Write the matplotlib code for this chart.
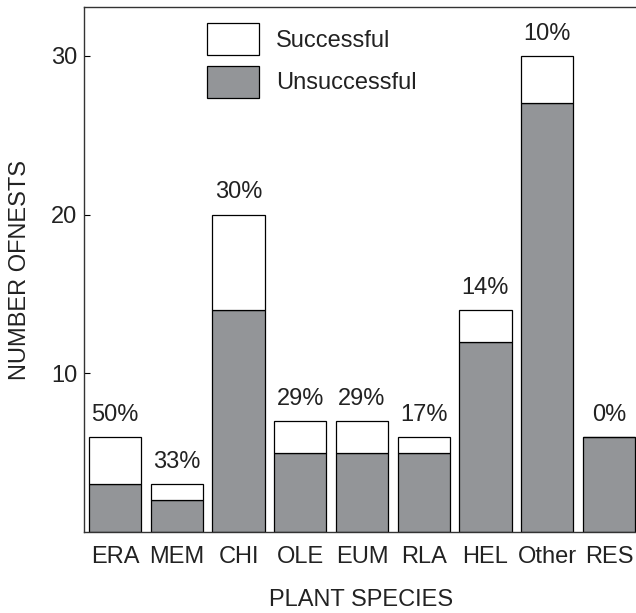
import matplotlib
matplotlib.use('Agg')
import matplotlib.pyplot as plt

plt.rcParams['font.family'] = ['Liberation Sans', 'DejaVu Sans']

# Nest counts per plant species
species = ['ERA', 'MEM', 'CHI', 'OLE', 'EUM', 'RLA', 'HEL', 'Other', 'RES']
unsuccessful = [3, 2, 14, 5, 5, 5, 12, 27, 6]
successful = [3, 1, 6, 2, 2, 1, 2, 3, 0]
pct_labels = ['50%', '33%', '30%', '29%', '29%', '17%', '14%', '10%', '0%']

gray = '#939598'
fs = 17

fig = plt.figure(figsize=(6.36, 6.13), dpi=100)
ax = fig.add_axes([84 / 636, 81 / 613, 1 - 84 / 636 + 0.002, 525 / 613])

x = range(len(species))
ax.bar(x, unsuccessful, width=0.845, color=gray, edgecolor='black', linewidth=0.9,
       label='Unsuccessful')
ax.bar(x, successful, width=0.845, bottom=unsuccessful, color='white', edgecolor='black',
       linewidth=0.9, label='Successful')

# percentage labels above each bar
for i, (u, s, lab) in enumerate(zip(unsuccessful, successful, pct_labels)):
    ax.annotate(lab, (i, u + s), xytext=(0, 8), textcoords='offset points',
                ha='center', va='bottom', fontsize=fs, color='#222222')

ax.set_xlim(-0.504, 8.46)
ax.set_ylim(0, 33.08)
ax.set_yticks([10, 20, 30])
ax.set_xticks(list(x))
ax.set_xticklabels(species)
ax.tick_params(axis='y', direction='in', length=4, width=0.8, labelsize=fs, pad=5,
               labelcolor='#222222')
ax.tick_params(axis='x', length=0, labelsize=fs, pad=10, labelcolor='#222222')
ax.spines['right'].set_visible(False)
for sp in ['left', 'top', 'bottom']:
    ax.spines[sp].set_linewidth(1.0)
    ax.spines[sp].set_color('#333333')

ax.set_xlabel('PLANT SPECIES', fontsize=fs, color='#222222', labelpad=15)
ax.set_ylabel('NUMBER OFNESTS', fontsize=fs, color='#222222', labelpad=14)

handles, labels = ax.get_legend_handles_labels()
leg = ax.legend(handles[::-1], labels[::-1], loc='upper left',
                bbox_to_anchor=(207 / 636, 1 - 23 / 613), bbox_transform=fig.transFigure,
                frameon=False, fontsize=fs, handlelength=2.2, handleheight=1.71,
                labelspacing=0.45, handletextpad=0.72, borderaxespad=0, borderpad=0)
for t in leg.get_texts():
    t.set_color('#222222')

fig.savefig('out.png', dpi=100)
